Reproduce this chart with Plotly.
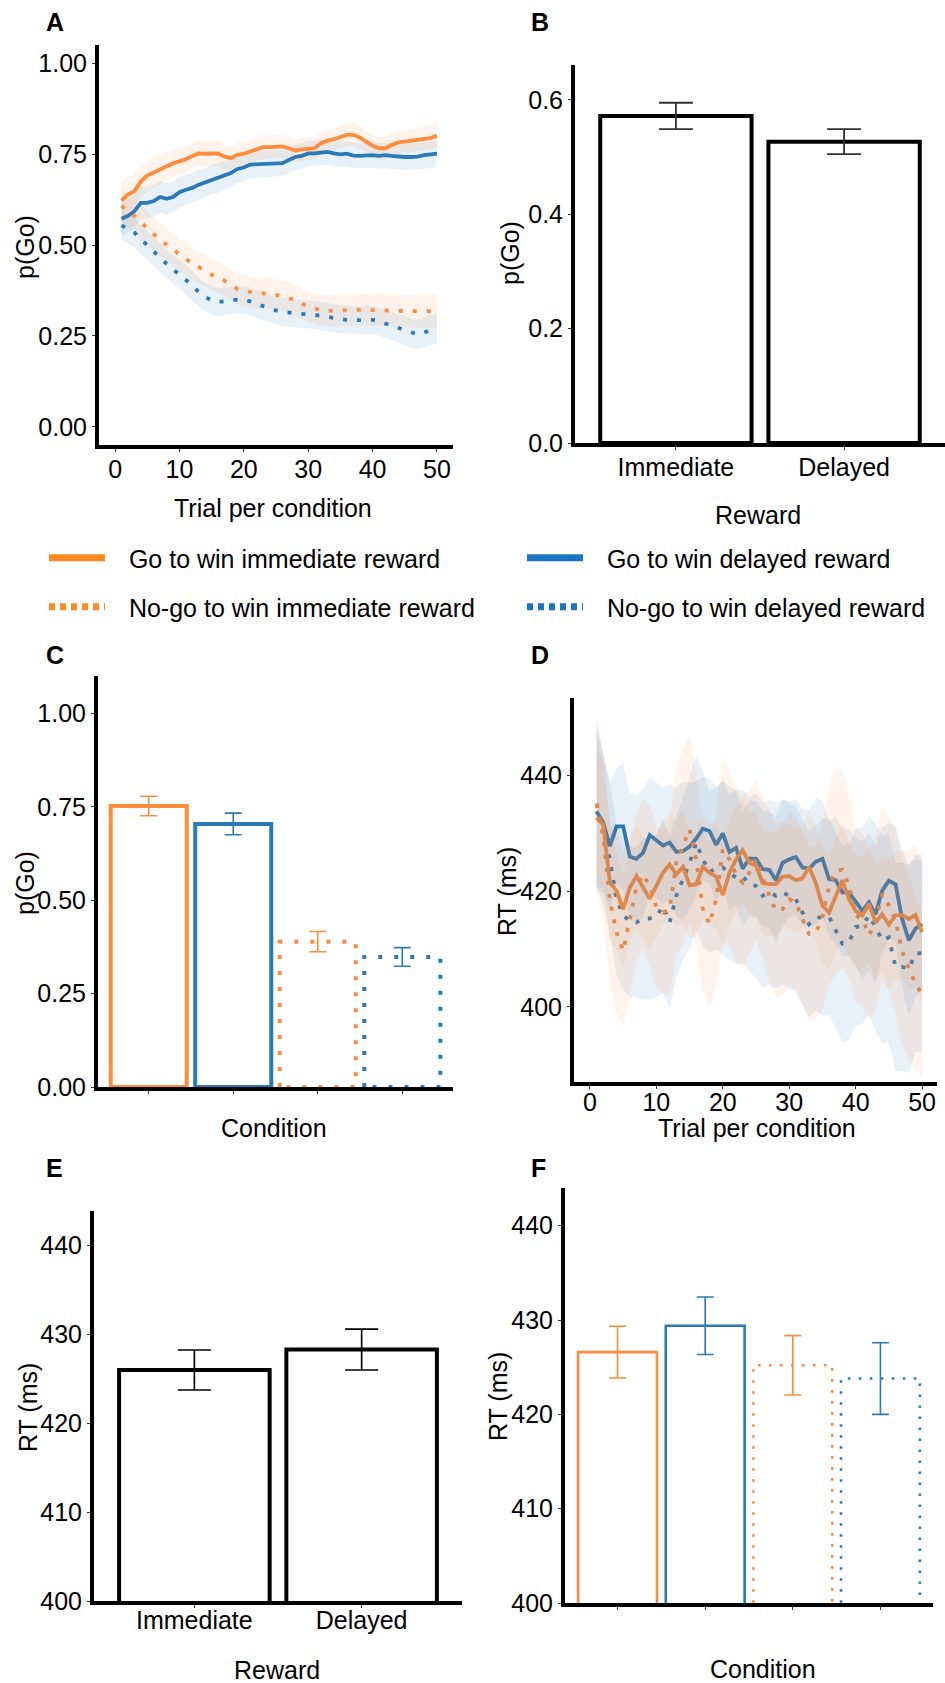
import plotly.graph_objects as go

W, H = 945, 1683
FONT = "Liberation Sans, Arial, Helvetica, sans-serif"
FS = 25
ORANGE = "#FF8C3B"
BLUE = "#2A7AB8"
ORANGE_LEG = "#FF8A1F"
BLUE_LEG = "#1B74C2"
ORANGE_FILL = "rgba(255,140,59,0.10)"
BLUE_FILL = "rgba(42,122,184,0.10)"

trials = list(range(1, 51))

# ---------------- Panel A: p(Go) over trials ----------------
a_go_imm = [0.622,0.639,0.648,0.675,0.691,0.700,0.707,0.716,0.725,0.730,0.736,0.745,0.752,0.751,0.752,0.752,0.743,0.739,0.748,0.751,0.757,0.763,0.769,0.769,0.771,0.771,0.766,0.760,0.763,0.765,0.766,0.780,0.787,0.791,0.798,0.803,0.803,0.796,0.784,0.773,0.766,0.766,0.775,0.782,0.784,0.787,0.789,0.793,0.794,0.800]
a_go_del = [0.572,0.580,0.593,0.616,0.616,0.621,0.632,0.627,0.632,0.645,0.652,0.657,0.666,0.672,0.680,0.684,0.691,0.698,0.709,0.713,0.721,0.722,0.722,0.723,0.725,0.725,0.734,0.742,0.745,0.752,0.752,0.754,0.756,0.752,0.749,0.751,0.746,0.745,0.747,0.747,0.745,0.747,0.745,0.743,0.742,0.742,0.743,0.747,0.749,0.751]
a_nogo_imm = [0.607,0.595,0.580,0.563,0.548,0.530,0.514,0.500,0.487,0.472,0.461,0.450,0.439,0.427,0.418,0.411,0.402,0.390,0.379,0.375,0.370,0.366,0.367,0.366,0.363,0.359,0.354,0.348,0.338,0.332,0.325,0.320,0.319,0.319,0.319,0.320,0.321,0.322,0.322,0.322,0.321,0.320,0.319,0.318,0.318,0.318,0.318,0.318,0.318,0.318]
a_nogo_del = [0.554,0.545,0.534,0.516,0.500,0.482,0.466,0.448,0.434,0.420,0.405,0.389,0.370,0.357,0.348,0.343,0.345,0.348,0.350,0.348,0.345,0.338,0.332,0.325,0.320,0.316,0.314,0.311,0.310,0.309,0.308,0.305,0.302,0.299,0.296,0.294,0.293,0.293,0.293,0.294,0.290,0.284,0.277,0.270,0.264,0.258,0.254,0.259,0.266,0.270]
a_go_imm_hw = [0.050,0.048,0.046,0.044,0.042,0.041,0.040,0.039,0.038,0.037,0.036,0.035,0.035,0.034,0.034,0.034,0.033,0.033,0.033,0.033,0.032,0.032,0.032,0.032,0.032,0.032,0.032,0.031,0.031,0.031,0.031,0.031,0.031,0.031,0.031,0.031,0.031,0.031,0.031,0.031,0.031,0.031,0.031,0.031,0.031,0.032,0.032,0.032,0.033,0.033]
a_go_del_hw = [0.045,0.045,0.044,0.044,0.044,0.043,0.043,0.043,0.042,0.042,0.042,0.041,0.041,0.040,0.040,0.040,0.039,0.039,0.038,0.038,0.038,0.037,0.037,0.037,0.036,0.036,0.036,0.035,0.035,0.035,0.035,0.035,0.035,0.035,0.035,0.035,0.035,0.035,0.035,0.035,0.035,0.035,0.036,0.036,0.036,0.036,0.036,0.037,0.037,0.037]
a_nogo_imm_hw = [0.048,0.047,0.047,0.046,0.046,0.045,0.045,0.044,0.044,0.044,0.043,0.043,0.043,0.043,0.042,0.042,0.042,0.042,0.042,0.042,0.042,0.042,0.042,0.042,0.042,0.042,0.042,0.042,0.042,0.042,0.042,0.042,0.043,0.043,0.043,0.043,0.043,0.043,0.043,0.043,0.043,0.043,0.044,0.044,0.044,0.044,0.045,0.045,0.045,0.046]
a_nogo_del_hw = [0.040,0.040,0.040,0.040,0.040,0.040,0.040,0.040,0.040,0.040,0.040,0.040,0.039,0.039,0.039,0.039,0.038,0.038,0.038,0.038,0.038,0.038,0.038,0.038,0.038,0.038,0.038,0.038,0.038,0.038,0.038,0.038,0.038,0.038,0.038,0.038,0.038,0.038,0.038,0.038,0.039,0.039,0.039,0.040,0.040,0.040,0.041,0.041,0.041,0.042]

# ---------------- Panel B: p(Go) by reward ----------------
reward_labels = ["Immediate", "Delayed"]
b_mean = [0.572, 0.527]
b_se = [0.023, 0.022]

# ---------------- Panel C: p(Go) by condition ----------------
cond_names = ["Go to win immediate reward", "Go to win delayed reward",
              "No-go to win immediate reward", "No-go to win delayed reward"]
c_mean = [0.752, 0.704, 0.389, 0.348]
c_se = [0.026, 0.029, 0.027, 0.025]

# ---------------- Panel D: RT over trials ----------------
d_go_imm = [432.7,431.5,421.5,420.1,416.9,420.6,422.6,420.5,418.7,420.9,423.2,424.6,422.9,424.2,421.0,421.2,424.2,423.2,422.5,419.3,423.2,425.5,427.1,424.9,424.4,421.4,421.2,421.2,422.5,422.6,421.9,422.2,424.2,421.4,417.5,416.3,419.1,421.9,418.6,416.6,415.8,417.8,414.6,416.0,414.2,415.8,415.9,415.2,415.9,412.9]
d_go_del = [433.8,431.8,427.8,431.2,431.2,426.0,425.6,426.6,429.7,428.8,427.9,428.4,426.8,426.9,427.7,429.1,430.8,430.4,428.0,430.0,426.8,427.5,423.9,425.6,425.6,423.8,423.7,421.9,424.9,425.5,425.9,424.1,423.9,425.1,425.6,422.1,421.9,419.8,419.8,418.2,416.6,418.1,416.0,420.1,421.8,421.2,415.2,411.5,413.5,414.3]
d_nogo_imm = [435.1,429.5,418.5,412.9,409.7,415.2,420.6,422.9,420.9,417.2,416.3,416.9,424.9,427.8,430.7,425.5,416.9,414.3,418.6,427.2,425.5,422.9,421.5,423.2,425.5,422.3,419.2,416.6,416.9,418.6,418.1,415.2,412.6,412.8,415.5,420.8,423.5,423.7,421.0,415.8,415.2,412.4,414.6,419.5,417.5,414.9,409.6,406.7,404.0,402.2]
d_nogo_del = [435.1,430.7,425.5,418.6,415.9,414.7,414.6,415.2,415.3,415.6,417.4,414.6,419.2,422.1,424.9,428.4,425.5,423.3,423.9,424.1,423.2,422.3,422.6,421.2,420.9,419.2,419.8,419.2,419.8,419.2,418.6,416.3,414.3,415.4,415.5,415.6,413.2,410.9,411.2,413.8,414.0,415.8,413.8,411.5,412.0,406.9,406.9,406.6,409.2,409.3]
d_go_imm_hw = [12,11,10,10,10,9,9,9,9,9,9,9,9,10,9,9,9,9,9,9,9,9,9,9,9,9,9,9,9,9,9,9,10,10,10,10,10,10,10,10,10,10,10,10,11,11,11,12,12,12]
d_go_del_hw = [14,12,11,10,11,11,11,11,10,10,10,10,11,12,11,10,9,9,10,9,10,10,10,10,10,10,10,11,11,10,10,10,10,11,10,10,11,11,11,11,12,12,12,11,10,10,12,13,12,11]
d_nogo_imm_hw = [15,14,14,14,13,13,13,13,14,14,14,15,16,17,16,15,14,14,15,16,15,15,15,14,14,14,15,15,15,15,15,15,15,15,16,17,18,17,16,15,15,15,15,15,15,16,16,16,15,14]
d_nogo_del_hw = [14,13,13,13,13,13,13,14,14,14,15,15,14,14,15,15,15,14,14,15,15,15,15,15,16,16,16,16,16,16,16,16,16,16,17,17,17,17,17,17,17,17,18,18,18,18,18,18,17,17]

# ---------------- Panel E: RT by reward ----------------
e_mean = [426.0, 428.3]
e_se = [2.25, 2.3]

# ---------------- Panel F: RT by condition ----------------
f_mean = [426.6, 429.4, 425.2, 423.8]
f_se = [2.75, 3.05, 3.15, 3.8]

cond_colors = [ORANGE, BLUE, ORANGE, BLUE]
cond_solid = [True, True, False, False]


def px_x(p):
    return p / W


def px_y(p):
    return 1 - p / H


fig = go.Figure()


def ribbon(x, m, hw, fill, xa, ya):
    up = [a + b for a, b in zip(m, hw)]
    lo = [a - b for a, b in zip(m, hw)]
    fig.add_trace(go.Scatter(x=list(x) + list(x)[::-1], y=up + lo[::-1], fill="toself",
                             fillcolor=fill, line=dict(width=0), mode="lines",
                             hoverinfo="skip", showlegend=False, xaxis=xa, yaxis=ya))


def line(x, m, color, solid, width, xa, ya, dash_dot="4px,10px"):
    fig.add_trace(go.Scatter(x=x, y=m, mode="lines",
                             line=dict(color=color, width=width, dash="solid" if solid else dash_dot),
                             showlegend=False, hoverinfo="skip", xaxis=xa, yaxis=ya))


# Panel A
a_series = [(a_go_imm, a_go_imm_hw, True, ORANGE, ORANGE_FILL),
            (a_go_del, a_go_del_hw, True, BLUE, BLUE_FILL),
            (a_nogo_imm, a_nogo_imm_hw, False, ORANGE, ORANGE_FILL),
            (a_nogo_del, a_nogo_del_hw, False, BLUE, BLUE_FILL)]
for m, hw, solid, col, fill in a_series:
    ribbon(trials, m, hw, fill, "x", "y")
for m, hw, solid, col, fill in a_series:
    line(trials, m, col, solid, 3.8, "x", "y")

# Panel B
fig.add_trace(go.Bar(x=[0, 1], y=b_mean, width=0.9,
                     marker=dict(color="white", line=dict(color="black", width=4)),
                     error_y=dict(type="data", array=b_se, color="#333333", thickness=1.8, width=17),
                     showlegend=False, hoverinfo="skip", xaxis="x2", yaxis="y2"))


def outline_bars(means, ses, base, lw, dash, errw, xa, ya):
    for i, (m, s) in enumerate(zip(means, ses)):
        col = cond_colors[i]
        fig.add_trace(go.Scatter(x=[i - 0.45, i - 0.45, i + 0.45, i + 0.45, i - 0.45],
                                 y=[base, m, m, base, base], mode="lines",
                                 line=dict(color=col, width=lw, dash="solid" if cond_solid[i] else dash),
                                 showlegend=False, hoverinfo="skip", xaxis=xa, yaxis=ya))
        fig.add_trace(go.Scatter(x=[i], y=[m], mode="markers", marker=dict(size=1, opacity=0),
                                 error_y=dict(type="data", array=[s], color=col, thickness=1.6, width=errw),
                                 showlegend=False, hoverinfo="skip", xaxis=xa, yaxis=ya))


# Panel C
outline_bars(c_mean, c_se, 0, 4, "4px,12px", 8.5, "x3", "y3")

# Panel D
d_series = [(d_go_del, d_go_del_hw, True, BLUE, BLUE_FILL),
            (d_nogo_del, d_nogo_del_hw, False, BLUE, BLUE_FILL),
            (d_nogo_imm, d_nogo_imm_hw, False, ORANGE, ORANGE_FILL),
            (d_go_imm, d_go_imm_hw, True, ORANGE, ORANGE_FILL)]
for m, hw, solid, col, fill in d_series:
    line(trials, m, col, solid, 3.8, "x4", "y4", dash_dot="4px,9px")
for m, hw, solid, col, fill in d_series:
    ribbon(trials, m, hw, fill, "x4", "y4")

# Panel E
fig.add_trace(go.Bar(x=[0, 1], y=e_mean, width=0.9,
                     marker=dict(color="white", line=dict(color="black", width=4)),
                     error_y=dict(type="data", array=e_se, color="black", thickness=1.6, width=16.5),
                     showlegend=False, hoverinfo="skip", xaxis="x5", yaxis="y5"))

# Panel F
outline_bars(f_mean, f_se, 0, 2.6, "2.6px,8.4px", 8.5, "x6", "y6")

# Legend entries: one legend per entry, arranged 2 x 2
leg_cols = [ORANGE_LEG, BLUE_LEG, ORANGE_LEG, BLUE_LEG]
leg_names = ["legend", "legend2", "legend3", "legend4"]
leg_pos = [(44, 558), (522, 558), (44, 607), (522, 607)]
for i, name in enumerate(cond_names):
    fig.add_trace(go.Scatter(x=[None], y=[None], mode="lines", name="\u00a0\u00a0\u2009" + name,
                             line=dict(color=leg_cols[i], width=7,
                                       dash="solid" if cond_solid[i] else "6px,5px"),
                             showlegend=True, legend=leg_names[i],
                             xaxis="x", yaxis="y"))

tickfont = dict(size=FS, color="black", family=FONT)


def ax(domain, rng, **kw):
    d = dict(domain=domain, range=rng, showline=True, linecolor="black", linewidth=4,
             ticks="outside", ticklen=3, tickwidth=1.2, tickcolor="#333333",
             showgrid=False, zeroline=False, tickfont=tickfont, fixedrange=True,
             ticklabeloverflow="allow", automargin=False)
    d.update(kw)
    return d


panels = {
    # name: (x0, x1, ytop, ybottom) in pixels (axis line centres)
    "A": (97, 453, 45, 447),
    "B": (573, 945, 65, 445),
    "C": (96, 453, 676, 1089),
    "D": (572, 937, 698, 1084),
    "E": (92, 462, 1211, 1603),
    "F": (563, 933, 1188, 1605),
}


def dom(p):
    x0, x1, yt, yb = panels[p]
    return [px_x(x0 + 2), px_x(min(x1, W))], [px_y(yb - 2), px_y(yt)]


layout = dict(width=W, height=H, margin=dict(l=0, r=0, t=0, b=0, autoexpand=False),
              paper_bgcolor="white", plot_bgcolor="white",
              font=dict(family=FONT, size=FS, color="black"))

dx, dy = dom("A")
layout["xaxis"] = ax(dx, [-2.5, 52.5], anchor="y", tickvals=[0, 10, 20, 30, 40, 50], ticklabelstandoff=-4)
layout["yaxis"] = ax(dy, [-0.05, 1.05], anchor="x", tickvals=[0, 0.25, 0.5, 0.75, 1.0], tickformat=".2f")
dx, dy = dom("B")
layout["xaxis2"] = ax(dx, [-0.6, 1.6], anchor="y2", tickvals=[0, 1], ticktext=reward_labels, ticklabelstandoff=-4)
layout["yaxis2"] = ax(dy, [0, 0.661], anchor="x2", tickvals=[0, 0.2, 0.4, 0.6], tickformat=".1f")
dx, dy = dom("C")
layout["xaxis3"] = ax(dx, [-0.6, 3.6], anchor="y3", tickvals=[0, 1, 2, 3], showticklabels=False)
layout["yaxis3"] = ax(dy, [0, 1.1], anchor="x3", tickvals=[0, 0.25, 0.5, 0.75, 1.0], tickformat=".2f")
dx, dy = dom("D")
layout["xaxis4"] = ax(dx, [-2.4, 52.25], anchor="y4", tickvals=[0, 10, 20, 30, 40, 50], ticklabelstandoff=-8)
layout["yaxis4"] = ax(dy, [387.0, 453.4], anchor="x4", tickvals=[400, 420, 440])
dx, dy = dom("E")
layout["xaxis5"] = ax(dx, [-0.6, 1.6], anchor="y5", tickvals=[0, 1], ticktext=reward_labels, ticklabelstandoff=-9)
layout["yaxis5"] = ax(dy, [400, 443.9], anchor="x5", tickvals=[400, 410, 420, 430, 440])
dx, dy = dom("F")
layout["xaxis6"] = ax(dx, [-0.6, 3.6], anchor="y6", tickvals=[0, 1, 2, 3], showticklabels=False)
layout["yaxis6"] = ax(dy, [400, 444.0], anchor="x6", tickvals=[400, 410, 420, 430, 440])

for ln, (lx, ly) in zip(leg_names, leg_pos):
    layout[ln] = dict(orientation="h", xanchor="left", yanchor="middle", x=px_x(lx), y=px_y(ly),
                      font=dict(size=FS, family=FONT, color="black"), bgcolor="rgba(0,0,0,0)",
                      itemwidth=56, itemclick=False, itemdoubleclick=False)

ann = []


def text(t, x, y, bold=False, rot=0, size=FS):
    ann.append(dict(text=("<b>%s</b>" % t) if bold else t, x=px_x(x), y=px_y(y),
                    xref="paper", yref="paper", showarrow=False, xanchor="center", yanchor="middle",
                    textangle=rot, font=dict(size=size, family=FONT, color="black")))


for lab, (x, y) in {"A": (55, 22), "B": (540, 22), "C": (55, 655),
                    "D": (540, 655), "E": (54, 1168), "F": (538, 1168)}.items():
    text(lab, x, y, bold=True)

text("p(Go)", 25, 247, rot=-90)
text("Trial per condition", 273, 508)
text("p(Go)", 510, 253, rot=-90)
text("Reward", 758, 515)
text("p(Go)", 25, 883, rot=-90)
text("Condition", 274, 1128)
text("RT (ms)", 507, 892, rot=-90)
text("Trial per condition", 757, 1128)
text("RT (ms)", 28, 1408, rot=-90)
text("Reward", 277, 1670)
text("RT (ms)", 498, 1397, rot=-90)
text("Condition", 763, 1669)
layout["annotations"] = ann

fig.update_layout(**layout)
fig.write_html("out.html", config={"displayModeBar": False},
               post_script="document.body.style.margin='0px';")
